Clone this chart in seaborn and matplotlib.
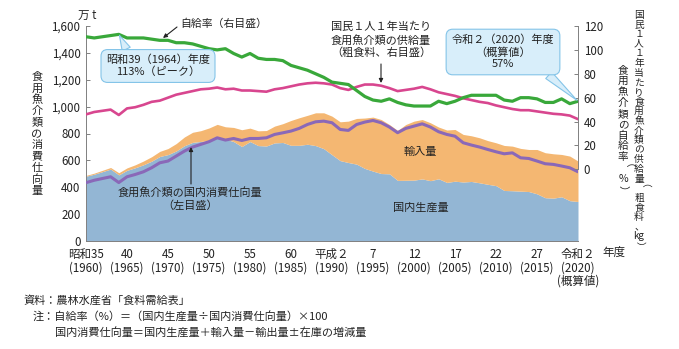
import matplotlib
matplotlib.use("Agg")
import matplotlib.pyplot as plt
import seaborn as sns
import pandas as pd

# ---------------- data ----------------
years = list(range(1960, 2021))

# 食用魚介類の国内消費仕向量 (万t)
consumption = [434, 452, 465, 478, 435, 478, 495, 515, 545, 582,
               595, 632, 669, 699, 719, 739, 768, 751, 763, 748,
               763, 763, 768, 793, 805, 818, 838, 867, 887, 892,
               880, 830, 823, 867, 885, 897, 880, 848, 806, 838,
               855, 872, 848, 813, 793, 780, 731, 714, 699, 681,
               664, 649, 656, 619, 614, 595, 575, 570, 558, 545,
               515]
# 国内生産量 (万t)
production = [482, 497, 516, 535, 492, 526, 545, 567, 594, 629,
              643, 670, 709, 734, 741, 746, 768, 758, 740, 703,
              740, 710, 707, 730, 733, 712, 712, 720, 710, 687,
              642, 598, 584, 572, 540, 520, 502, 500, 451, 452,
              453, 462, 449, 463, 436, 445, 439, 443, 433, 422,
              412, 376, 374, 371, 368, 351, 322, 319, 329, 300,
              294]
# 輸入量 (万t)
imports = [6, 8, 10, 12, 16, 18, 22, 28, 33, 38,
           45, 55, 65, 75, 80, 95, 100, 92, 105, 125,
           100, 110, 115, 125, 140, 185, 205, 215, 244, 267,
           287, 289, 308, 340, 375, 402, 402, 367, 372, 415,
           439, 442, 431, 385, 390, 385, 354, 340, 335, 325,
           319, 335, 332, 318, 313, 330, 335, 330, 315, 332,
           301]
# 自給率 (%)
self_sufficiency = [111, 110, 111, 112, 113, 110, 110, 110, 109, 108,
                    108, 106, 106, 105, 103, 101, 100, 101, 97, 94,
                    97, 93, 92, 92, 91, 87, 85, 83, 80, 77,
                    73, 72, 71, 66, 61, 58, 57, 59, 56, 54,
                    53, 53, 53, 57, 55, 57, 60, 62, 62, 62,
                    62, 58, 57, 60, 60, 59, 56, 56, 59, 55,
                    57]
# 国民1人1年当たり供給量 (粗食料, kg)
per_capita = [46, 48, 49, 50, 45.5, 51, 52, 54, 56.5, 57.5,
              60, 62.5, 64, 65.5, 67, 67.5, 68.5, 67, 67.5, 66,
              66, 65.5, 65, 67, 68, 69.5, 71, 72, 72.5, 72,
              71, 68, 66.5, 69, 71, 71, 70, 68, 65.5, 66.5,
              67.5, 69, 67, 64.5, 63, 61.5, 59.5, 58, 56.5, 55.5,
              53.5, 52, 50.5, 49.5, 49.5, 48.5, 47.5, 46.5, 46, 45,
              42]

tick_years = list(range(1960, 2021, 5))
tick_era = ["昭和35", "40", "45", "50", "55", "60", "平成２", "7", "12",
            "17", "22", "27", "令和２"]
tick_ad = ["(1960)", "(1965)", "(1970)", "(1975)", "(1980)", "(1985)",
           "(1990)", "(1995)", "(2000)", "(2005)", "(2010)", "(2015)",
           "(2020)\n(概算値)"]

df = pd.DataFrame({"year": years, "consumption": consumption,
                   "production": production, "imports": imports,
                   "ratio": self_sufficiency, "percap": per_capita})

# ---------------- style ----------------
sns.set_theme(style="white")
plt.rcParams["font.family"] = ["Noto Sans CJK JP", "DejaVu Sans"]
plt.rcParams["axes.unicode_minus"] = False

BLUE = "#93b6d4"
ORANGE = "#f4b772"
PURPLE = "#8a68b8"
PINK = "#d8468f"
GREEN = "#39a83a"
BOXFC = "#d8eefa"
BOXEC = "#84c4e8"
TXT = "#222222"
GRAY = "#808080"

W, H = 679, 349
fig = plt.figure(figsize=(W / 100, H / 100), dpi=100)


def fx(x):
    return x / W


def fy(y):
    return 1 - y / H


ax = fig.add_axes([fx(86), fy(241), (578 - 86) / W, (241 - 26) / H])

ax.stackplot(df["year"], df["production"], df["imports"],
             colors=[BLUE, ORANGE], linewidth=0, zorder=1)
sns.lineplot(data=df, x="year", y="consumption", ax=ax, color=PURPLE,
             linewidth=2.2, zorder=3)

ax.set_xlim(1960, 2020)
ax.set_ylim(0, 1600)
ax.set_yticks(range(0, 1601, 200))
ax.set_yticklabels([f"{v:,}" for v in range(0, 1601, 200)])
ax.set_xticks(tick_years)
ax.set_xticklabels([f"{a}\n{b}" for a, b in zip(tick_era, tick_ad)],
                   linespacing=1.05)
ax.set_xlabel("")
ax.set_ylabel("")
ax.tick_params(axis="both", direction="in", length=3, width=0.7,
               color=GRAY, labelsize=8.3, labelcolor=TXT, pad=4)
ax.tick_params(axis="x", pad=5)
for s in ["top", "right"]:
    ax.spines[s].set_visible(False)
for s in ["left", "bottom"]:
    ax.spines[s].set_color(GRAY)
    ax.spines[s].set_linewidth(0.7)

ax2 = ax.twinx()
sns.lineplot(data=df, x="year", y="percap", ax=ax2, color=PINK,
             linewidth=1.9, zorder=3)
sns.lineplot(data=df, x="year", y="ratio", ax=ax2, color=GREEN,
             linewidth=2.3, zorder=4)
ax2.set_ylim(-60, 120)
ax2.set_yticks(range(0, 121, 20))
ax2.set_ylabel("")
ax2.set_xlabel("")
ax2.tick_params(axis="y", direction="in", length=3, width=0.7,
                color=GRAY, labelsize=8.3, labelcolor=TXT, pad=4)
for s in ["top", "left", "bottom"]:
    ax2.spines[s].set_visible(False)
ax2.spines["right"].set_bounds(0, 120)
ax2.spines["right"].set_color(GRAY)
ax2.spines["right"].set_linewidth(0.7)

# ---------------- callouts ----------------
ax2.annotate("昭和39（1964）年度\n113%（ピーク）", xy=(1964, 113.3),
             xycoords="data", xytext=(fx(158), fy(66)),
             textcoords="figure fraction", ha="center", va="center",
             fontsize=8, color=TXT, linespacing=1.2, zorder=10,
             bbox=dict(boxstyle="round,pad=0.45,rounding_size=0.6",
                       fc=BOXFC, ec=BOXEC, lw=0.8),
             arrowprops=dict(arrowstyle="wedge,tail_width=0.8,shrink_factor=0.5",
                             fc=BOXFC, ec=BOXEC, lw=0.8,
                             relpos=(0.22, 1.0), shrinkA=0, shrinkB=1))

ax2.annotate("令和２（2020）年度\n（概算値）\n57%", xy=(2020, 57),
             xycoords="data", xytext=(fx(503), fy(52)),
             textcoords="figure fraction", ha="center", va="center",
             fontsize=8, color=TXT, linespacing=1.2, zorder=10,
             annotation_clip=False,
             bbox=dict(boxstyle="round,pad=0.5,rounding_size=0.6",
                       fc=BOXFC, ec=BOXEC, lw=0.8),
             arrowprops=dict(arrowstyle="wedge,tail_width=0.8,shrink_factor=0.5",
                             fc=BOXFC, ec=BOXEC, lw=0.8,
                             relpos=(0.88, 0.0), shrinkA=0, shrinkB=1))

# ---------------- text labels with arrows ----------------
arrow_kw = dict(arrowstyle="-|>", color=TXT, lw=0.8, mutation_scale=6,
                shrinkA=0, shrinkB=0)

fig.text(fx(180), fy(24), "自給率（右目盛）", ha="left", va="center",
         fontsize=7.8, color=TXT)
ax2.annotate("", xy=(fx(163), fy(38)), xycoords="figure fraction",
             xytext=(fx(177), fy(27)), textcoords="figure fraction",
             arrowprops=arrow_kw)

fig.text(fx(381), fy(40), "国民１人１年当たり\n食用魚介類の供給量\n（粗食料、右目盛）",
         ha="center", va="center", fontsize=8, color=TXT, linespacing=1.25)
ax2.annotate("", xy=(fx(381), fy(83)), xycoords="figure fraction",
             xytext=(fx(381), fy(64)), textcoords="figure fraction",
             arrowprops=arrow_kw)

fig.text(fx(190), fy(199), "食用魚介類の国内消費仕向量\n（左目盛）",
         ha="center", va="center", fontsize=8, color=TXT, linespacing=1.25)
ax2.annotate("", xy=(fx(191), fy(147)), xycoords="figure fraction",
             xytext=(fx(191), fy(184)), textcoords="figure fraction",
             arrowprops=arrow_kw)

fig.text(fx(420), fy(152), "輸入量", ha="center", va="center",
         fontsize=8, color=TXT)
fig.text(fx(421), fy(208), "国内生産量", ha="center", va="center",
         fontsize=8, color=TXT)

fig.text(fx(87), fy(15), "万 t", ha="center", va="center", fontsize=8.3,
         color=TXT)
fig.text(fx(614), fy(252), "年度", ha="center", va="center", fontsize=8.3,
         color=TXT)


# ---------------- vertical axis titles ----------------
def vtext(x, y0, y1, tokens, fs):
    n = len(tokens)
    for i, t in enumerate(tokens):
        y = y0 + (y1 - y0) * i / (n - 1)
        rot = -90 if t in ("（", "）") else 0
        fig.text(fx(x), fy(y), t, ha="center", va="center", fontsize=fs,
                 rotation=rot, color=TXT)


vtext(37, 77, 191, list("食用魚介類の消費仕向量"), 8)
vtext(623, 70, 190, list("食用魚介類の自給率") + ["（", "%", "）"], 7.6)
vtext(639, 15, 246, list("国民１人１年当たり食用魚介類の供給量") +
      ["（", "粗", "食", "料", "、", "kg", "）"], 7)

# ---------------- notes ----------------
fig.text(fx(23), fy(300), "資料：農林水産省「食料需給表」", ha="left",
         va="center", fontsize=8, color=TXT)
fig.text(fx(33), fy(317), "注：自給率（%）＝（国内生産量÷国内消費仕向量）×100",
         ha="left", va="center", fontsize=8, color=TXT)
fig.text(fx(55), fy(333), "国内消費仕向量＝国内生産量＋輸入量－輸出量±在庫の増減量",
         ha="left", va="center", fontsize=8, color=TXT)

fig.savefig("out.png", dpi=100)
